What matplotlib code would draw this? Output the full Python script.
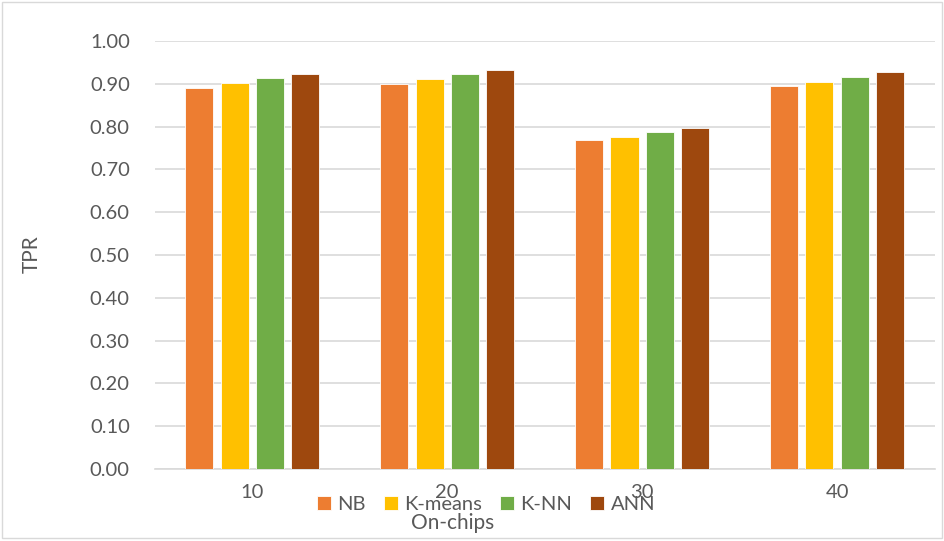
import matplotlib
matplotlib.use("Agg")
import matplotlib.pyplot as plt
import numpy as np
from matplotlib.patches import Rectangle

categories = ["10", "20", "30", "40"]
series_names = ["NB", "K-means", "K-NN", "ANN"]
nb = [0.891, 0.900, 0.768, 0.894]
kmeans = [0.902, 0.911, 0.777, 0.905]
knn = [0.913, 0.922, 0.787, 0.917]
ann = [0.924, 0.933, 0.797, 0.928]
yticks = [0.0, 0.1, 0.2, 0.3, 0.4, 0.5, 0.6, 0.7, 0.8, 0.9, 1.0]

colors = ["#ED7D31", "#FFC000", "#70AD47", "#9E480E"]
plt.rcParams['font.family'] = ['Lato', 'DejaVu Sans']
txt = "#595959"

fig = plt.figure(figsize=(9.44, 5.41), dpi=100)
ax = fig.add_axes([0.164, 0.133, 0.826, 0.791])

x = np.arange(len(categories))
step = 0.181
width = 0.144
for i, (name, vals) in enumerate(zip(series_names, [nb, kmeans, knn, ann])):
    ax.bar(x + (i - 1.5) * step, vals, width=width, color=colors[i],
           edgecolor="white", linewidth=0.6, label=name, zorder=3)

ax.set_xlim(-0.5, len(categories) - 0.5)
ax.set_ylim(0, 1.0)
ax.set_yticks(yticks)
ax.set_yticklabels([f"{t:.2f}" for t in yticks])
ax.set_xticks(x)
ax.set_xticklabels(categories)
ax.yaxis.grid(True, color="#D9D9D9", linewidth=1.2, zorder=0)
for s in ["top", "right", "left"]:
    ax.spines[s].set_visible(False)
ax.spines["bottom"].set_color("#D9D9D9")
ax.spines["bottom"].set_linewidth(1.2)
ax.tick_params(axis="both", length=0, labelsize=14.5, colors=txt)
ax.tick_params(axis="x", pad=11)
ax.tick_params(axis="y", pad=18)

fig.text(0.034, 0.53, "TPR", rotation=90, ha="center", va="center", fontsize=15, color=txt)
fig.text(0.48, 0.034, "On-chips", ha="center", va="center", fontsize=15, color=txt)

leg = fig.legend(loc="center", bbox_to_anchor=(0.515, 0.068), ncol=4, frameon=False,
                 fontsize=14.5, handlelength=0.7, handleheight=0.7, handletextpad=0.3,
                 columnspacing=0.9, labelcolor=txt)

fig.patches.append(Rectangle((0.002, 0.006), 0.996, 0.99, transform=fig.transFigure,
                             fill=False, edgecolor="#D9D9D9", linewidth=1))

fig.savefig("out.png", dpi=100)
